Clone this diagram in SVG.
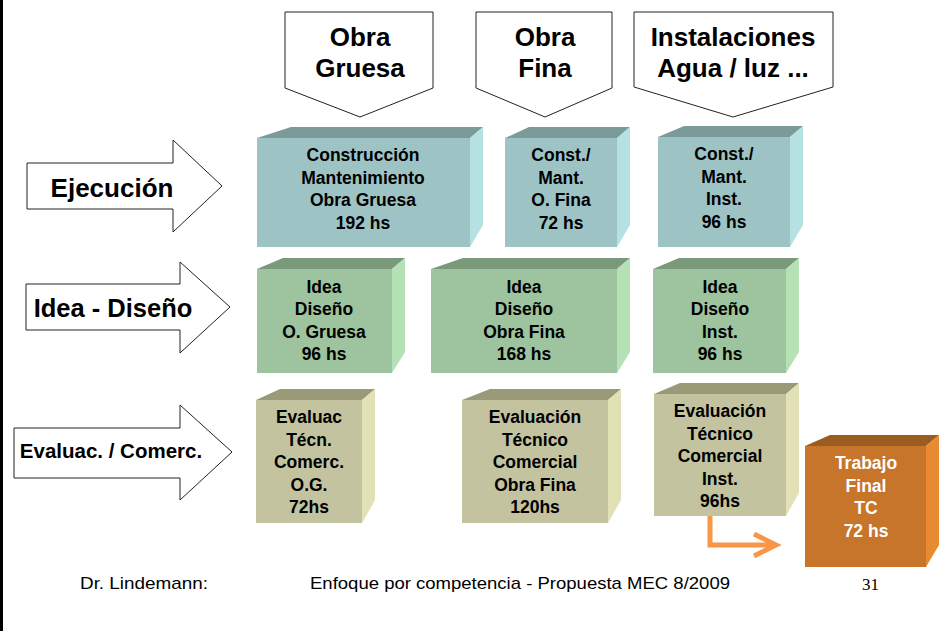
<svg xmlns="http://www.w3.org/2000/svg" width="948" height="631" viewBox="0 0 948 631">
<style>
.arr{fill:#fff;stroke:#222;stroke-width:1}
.t{font-family:"Liberation Sans",Arial,sans-serif;font-weight:bold;text-anchor:middle;fill:#000}
.bt{font-size:17.5px}
.hd{font-size:26px}
.tf{fill:#7B9B9B}.ff{fill:#9DC3C5}.sf{fill:#B5E1E3}
.tg{fill:#7A987A}.fg{fill:#9DC49E}.sg{fill:#B4E2B4}
.to{fill:#9A9A79}.fo{fill:#C3C3A0}.so{fill:#E1E1B5}
.tr{fill:#9B5C20}.fr{fill:#C7752A}.sr{fill:#E88A30}
.ft{font-family:"Liberation Sans",Arial,sans-serif;font-size:17px;fill:#000}
</style>
<rect x="0" y="0" width="3" height="631" fill="#000"/>

<g id="top-obra-gruesa">
<polygon class="arr" points="285,12 433,12 433,88 360,117 285,88"/>
<text class="t hd" x="360" y="46">Obra</text>
<text class="t hd" x="360" y="77">Gruesa</text>
</g>
<g id="top-obra-fina">
<polygon class="arr" points="476,12 612,12 612,88 545,117 476,88"/>
<text class="t hd" x="545" y="46">Obra</text>
<text class="t hd" x="545" y="77">Fina</text>
</g>
<g id="top-instalaciones">
<polygon class="arr" points="634,12 833,12 833,87 733,117 634,87"/>
<text class="t hd" x="733" y="46">Instalaciones</text>
<text class="t hd" x="733" y="77">Agua / luz ...</text>
</g>

<g id="left-ejecucion">
<polygon class="arr" points="27,163 173,163 173,140 222,186 173,232 173,209 27,209"/>
<text class="t" style="font-size:26px" x="112" y="197">Ejecución</text>
</g>
<g id="left-idea">
<polygon class="arr" points="26,284 180,284 180,262 230,307 180,353 180,330 26,330"/>
<text class="t" style="font-size:25.5px" x="113" y="317">Idea - Diseño</text>
</g>
<g id="left-evaluac">
<polygon class="arr" points="14,428 180,428 180,405 232,452 180,500 180,478 14,478"/>
<text class="t" style="font-size:20.5px" x="111" y="458">Evaluac. / Comerc.</text>
</g>

<g id="r1b1">
<polygon class="tf" points="257,138 291,127 483,127 470,138"/>
<polygon class="sf" points="470,138 483,127 483,225 470,247"/>
<rect class="ff" x="257" y="138" width="213" height="109"/>
<text class="t bt" x="363" y="161">Construcción<tspan x="363" dy="22.5">Mantenimiento</tspan><tspan x="363" dy="22.5">Obra Gruesa</tspan><tspan x="363" dy="22.5">192 hs</tspan></text>
</g>
<g id="r1b2">
<polygon class="tf" points="505,138 529,127 630,127 617,138"/>
<polygon class="sf" points="617,138 630,127 630,225 617,247"/>
<rect class="ff" x="505" y="138" width="112" height="109"/>
<text class="t bt" x="561" y="161">Const./<tspan x="561" dy="22.5">Mant.</tspan><tspan x="561" dy="22.5">O. Fina</tspan><tspan x="561" dy="22.5">72 hs</tspan></text>
</g>
<g id="r1b3">
<polygon class="tf" points="658,137 684,126 803,126 790,137"/>
<polygon class="sf" points="790,137 803,126 803,225 790,247"/>
<rect class="ff" x="658" y="137" width="132" height="110"/>
<text class="t bt" x="724" y="160">Const./<tspan x="724" dy="22.5">Mant.</tspan><tspan x="724" dy="22.5">Inst.</tspan><tspan x="724" dy="22.5">96 hs</tspan></text>
</g>

<g id="r2b1">
<polygon class="tg" points="257,269 283,258 405,258 392,269"/>
<polygon class="sg" points="392,269 405,258 405,352 392,373"/>
<rect class="fg" x="257" y="269" width="135" height="104"/>
<text class="t bt" x="324" y="293">Idea<tspan x="324" dy="22.3">Diseño</tspan><tspan x="324" dy="22.3">O. Gruesa</tspan><tspan x="324" dy="22.3">96 hs</tspan></text>
</g>
<g id="r2b2">
<polygon class="tg" points="431,269 463,258 630,258 617,269"/>
<polygon class="sg" points="617,269 630,258 630,352 617,373"/>
<rect class="fg" x="431" y="269" width="186" height="104"/>
<text class="t bt" x="524" y="293">Idea<tspan x="524" dy="22.3">Diseño</tspan><tspan x="524" dy="22.3">Obra Fina</tspan><tspan x="524" dy="22.3">168 hs</tspan></text>
</g>
<g id="r2b3">
<polygon class="tg" points="653,269 679,258 799,258 786,269"/>
<polygon class="sg" points="786,269 799,258 799,352 786,373"/>
<rect class="fg" x="653" y="269" width="133" height="104"/>
<text class="t bt" x="720" y="293">Idea<tspan x="720" dy="22.3">Diseño</tspan><tspan x="720" dy="22.3">Inst.</tspan><tspan x="720" dy="22.3">96 hs</tspan></text>
</g>

<g id="r3b1">
<polygon class="to" points="256,400 280,389 375,389 362,400"/>
<polygon class="so" points="362,400 375,389 375,500 362,523"/>
<rect class="fo" x="256" y="400" width="106" height="123"/>
<text class="t bt" x="309" y="423">Evaluac<tspan x="309" dy="22.5">Técn.</tspan><tspan x="309" dy="22.5">Comerc.</tspan><tspan x="309" dy="22.5">O.G.</tspan><tspan x="309" dy="22.5">72hs</tspan></text>
</g>
<g id="r3b2">
<polygon class="to" points="462,400 490,389 621,389 608,400"/>
<polygon class="so" points="608,400 621,389 621,500 608,523"/>
<rect class="fo" x="462" y="400" width="146" height="123"/>
<text class="t bt" x="535" y="423">Evaluación<tspan x="535" dy="22.5">Técnico</tspan><tspan x="535" dy="22.5">Comercial</tspan><tspan x="535" dy="22.5">Obra Fina</tspan><tspan x="535" dy="22.5">120hs</tspan></text>
</g>
<g id="r3b3">
<polygon class="to" points="654,394 680,383 799,383 786,394"/>
<polygon class="so" points="786,394 799,383 799,493 786,516"/>
<rect class="fo" x="654" y="394" width="132" height="122"/>
<text class="t bt" x="720" y="417">Evaluación<tspan x="720" dy="22.5">Técnico</tspan><tspan x="720" dy="22.5">Comercial</tspan><tspan x="720" dy="22.5">Inst.</tspan><tspan x="720" dy="22.5">96hs</tspan></text>
</g>

<g id="trabajo-final">
<polygon class="tr" points="805,446 830,435 939,435 926,446"/>
<polygon class="sr" points="926,446 939,435 939,545 926,567"/>
<rect class="fr" x="805" y="446" width="121" height="121"/>
<text class="t bt" style="fill:#fff" x="866" y="469">Trabajo<tspan x="866" dy="22.6">Final</tspan><tspan x="866" dy="22.6">TC</tspan><tspan x="866" dy="22.6">72 hs</tspan></text>
</g>

<g id="connectors" fill="none" stroke="#F79646" stroke-width="5">
<path d="M710,516 V545 H775"/>
<polyline points="754,534 776,545 754,556"/>
</g>

<g id="footer">
<text class="ft" x="80" y="589" textLength="128" lengthAdjust="spacingAndGlyphs">Dr. Lindemann:</text>
<text class="ft" x="310" y="589" textLength="420" lengthAdjust="spacingAndGlyphs">Enfoque por competencia - Propuesta MEC 8/2009</text>
<text x="862" y="590" style="font-family:'Liberation Serif','Times New Roman',serif;font-size:17px">31</text>
</g>
</svg>
